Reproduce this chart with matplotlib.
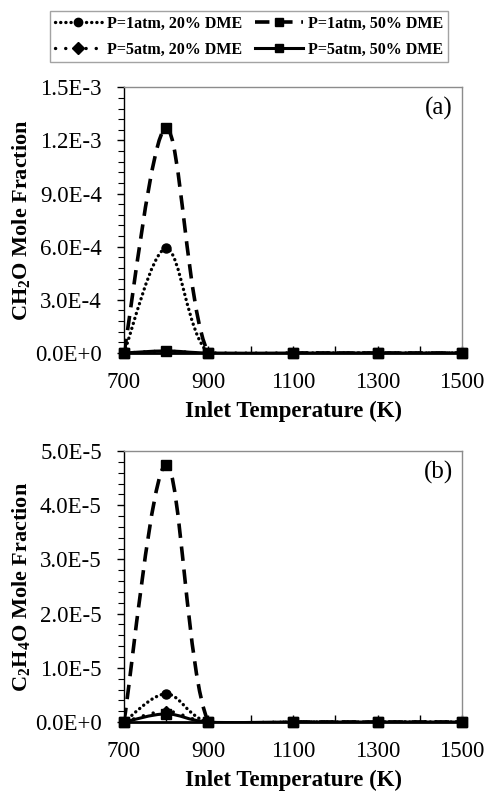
import matplotlib
matplotlib.use("Agg")
import matplotlib.pyplot as plt
import numpy as np
from matplotlib.lines import Line2D
from matplotlib.patches import PathPatch
from matplotlib.path import Path
from matplotlib.ticker import FixedLocator, MultipleLocator

plt.rcParams["font.family"] = ["Liberation Serif", "DejaVu Serif"]
plt.rcParams["mathtext.fontset"] = "custom"
plt.rcParams["mathtext.rm"] = "Liberation Serif"
plt.rcParams["mathtext.bf"] = "Liberation Serif:bold"
plt.rcParams["mathtext.it"] = "Liberation Serif:italic"

# inlet temperature (K)
temps = [700, 800, 900, 1100, 1300, 1500]

series_names = [
    "P=1atm, 20% DME",
    "P=1atm, 50% DME",
    "P=5atm, 20% DME",
    "P=5atm, 50% DME",
]

# (a) CH2O mole fraction
ch2o_1atm_20 = [0.0, 5.9e-4, 0.0, 0.0, 0.0, 0.0]
ch2o_1atm_50 = [0.0, 1.27e-3, 0.0, 0.0, 0.0, 0.0]
ch2o_5atm_20 = [0.0, 1.0e-5, 0.0, 0.0, 0.0, 0.0]
ch2o_5atm_50 = [0.0, 1.2e-5, 0.0, 0.0, 0.0, 0.0]

# (b) C2H4O mole fraction
c2h4o_1atm_20 = [0.0, 5.2e-6, 0.0, 0.0, 0.0, 0.0]
c2h4o_1atm_50 = [0.0, 4.75e-5, 0.0, 0.0, 0.0, 0.0]
c2h4o_5atm_20 = [0.0, 2.0e-6, 0.0, 0.0, 0.0, 0.0]
c2h4o_5atm_50 = [0.0, 1.5e-6, 0.0, 0.0, 0.0, 0.0]

xticks = [700, 800, 900, 1000, 1100, 1200, 1300, 1400, 1500]
xtick_labels = ["700", "", "900", "", "1100", "", "1300", "", "1500"]

yticks_a = [0.0, 3.0e-4, 6.0e-4, 9.0e-4, 1.2e-3, 1.5e-3]
ytick_labels_a = ["0.0E+0", "3.0E-4", "6.0E-4", "9.0E-4", "1.2E-3", "1.5E-3"]
yticks_b = [0.0, 1.0e-5, 2.0e-5, 3.0e-5, 4.0e-5, 5.0e-5]
ytick_labels_b = ["0.0E+0", "1.0E-5", "2.0E-5", "3.0E-5", "4.0E-5", "5.0E-5"]

styles = [
    dict(linestyle=(0, (0.05, 1.5)), marker="o", lw=2.4, capstyle="round"),
    dict(linestyle=(0, (4.0, 2.4)), marker="s", lw=2.6, capstyle="butt"),
    dict(linestyle=(0, (0.05, 3.0)), marker="D", lw=2.4, capstyle="round"),
    dict(linestyle="-", marker="s", lw=2.2, capstyle="butt"),
]


def smooth_path(xs, ys):
    """Excel-like smoothed line: cubic Bezier through the data points."""
    pts = np.column_stack([xs, ys]).astype(float)
    n = len(pts)
    verts = [pts[0]]
    codes = [Path.MOVETO]
    for i in range(n - 1):
        p_prev = pts[i - 1] if i > 0 else pts[i]
        p_next2 = pts[i + 2] if i + 2 < n else pts[i + 1]
        c1 = pts[i] + (pts[i + 1] - p_prev) / 6.0
        c2 = pts[i + 1] - (p_next2 - pts[i]) / 6.0
        verts += [c1, c2, pts[i + 1]]
        codes += [Path.CURVE4] * 3
    return Path(verts, codes)


def draw_panel(ax, data, yticks, ytick_labels, ylabel, tag):
    for ys, st in zip(data, styles):
        ax.add_patch(PathPatch(smooth_path(temps, ys), fill=False,
                               edgecolor="black", lw=st["lw"],
                               linestyle=st["linestyle"],
                               capstyle=st["capstyle"], zorder=3))
        ax.plot(temps, ys, linestyle="none", marker=st["marker"],
                color="black", markersize=6.5 if st["marker"] != "D" else 5.5,
                zorder=4, clip_on=False)

    ax.set_xlim(700, 1500)
    ax.set_ylim(yticks[0], yticks[-1])
    ax.xaxis.set_major_locator(FixedLocator(xticks))
    ax.set_xticklabels(xtick_labels)
    ax.yaxis.set_major_locator(FixedLocator(yticks))
    ax.set_yticklabels(ytick_labels)
    ax.yaxis.set_minor_locator(MultipleLocator((yticks[1] - yticks[0]) / 5))

    ax.tick_params(axis="x", direction="in", length=5, width=1,
                   labelsize=16.5, pad=14)
    ax.tick_params(axis="y", which="major", direction="out", length=5,
                   width=1, labelsize=16.5, pad=11)
    ax.tick_params(axis="y", which="minor", direction="out", length=4,
                   width=0.8)

    for side in ("top", "right"):
        ax.spines[side].set_color("#8c8c8c")
        ax.spines[side].set_linewidth(1.0)
    ax.spines["left"].set_linewidth(1.0)
    ax.spines["bottom"].set_linewidth(2.0)

    ax.set_ylabel(ylabel, fontsize=16, fontweight="bold", labelpad=2)
    ax.set_xlabel("Inlet Temperature (K)", fontsize=16.5, fontweight="bold",
                  labelpad=5)
    ax.text(0.93, 0.92, tag, transform=ax.transAxes, fontsize=18,
            ha="center", va="center")


fig = plt.figure(figsize=(4.88, 7.91), dpi=100)
ax_a = fig.add_axes([0.254, 0.5537, 0.693, 0.336])
ax_b = fig.add_axes([0.254, 0.0872, 0.693, 0.3426])

draw_panel(ax_a, [ch2o_1atm_20, ch2o_1atm_50, ch2o_5atm_20, ch2o_5atm_50],
           yticks_a, ytick_labels_a, r"CH$_\mathbf{2}$O Mole Fraction", "(a)")
draw_panel(ax_b, [c2h4o_1atm_20, c2h4o_1atm_50, c2h4o_5atm_20, c2h4o_5atm_50],
           yticks_b, ytick_labels_b,
           r"C$_\mathbf{2}$H$_\mathbf{4}$O Mole Fraction", "(b)")

handles = [
    Line2D([], [], color="black", lw=st["lw"], linestyle=st["linestyle"],
           dash_capstyle=st["capstyle"], marker=st["marker"], markersize=6)
    for st in styles
]
# legend fills column-wise: reorder so rows read 1atm / 5atm
order = [0, 2, 1, 3]
leg = fig.legend([handles[i] for i in order], [series_names[i] for i in order],
                 loc="upper center", ncol=2,
                 bbox_to_anchor=(0.51, 0.996), frameon=True, fancybox=False,
                 prop={"weight": "bold", "size": 11.5}, handlelength=3.0,
                 handletextpad=0.3, columnspacing=0.8, labelspacing=0.6,
                 borderpad=0.3, numpoints=1)
leg.get_frame().set_edgecolor("#8c8c8c")
leg.get_frame().set_linewidth(1.0)

fig.savefig("out.png", dpi=100)
